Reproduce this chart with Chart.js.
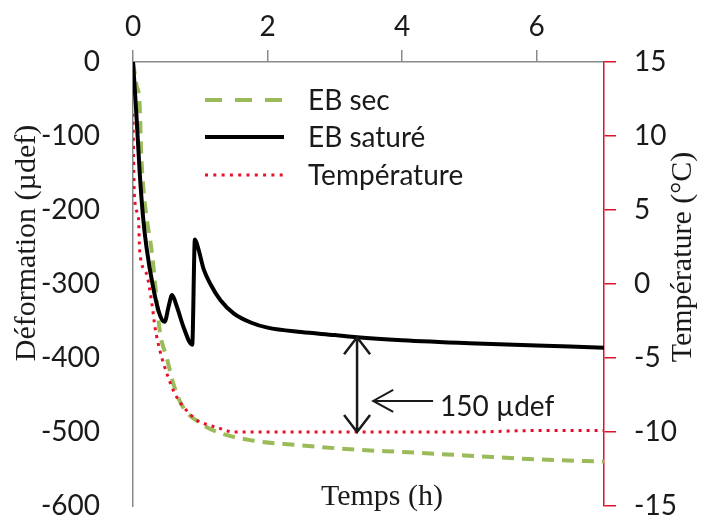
<!DOCTYPE html>
<html>
<head>
<meta charset="utf-8">
<script src="https://cdn.jsdelivr.net/npm/chart.js@4.4.1/dist/chart.umd.min.js"></script>
<style>
  html, body { margin: 0; padding: 0; background: #fff; }
</style>
</head>
<body>
<canvas id="chart" width="705" height="525"></canvas>
<script>
// EB sec (green dashed), left axis
const timeSec = [0, 0.05, 0.1, 0.12, 0.15, 0.2, 0.28, 0.35, 0.4, 0.5, 0.6, 0.74, 1.0, 1.25, 1.74, 2.5, 3.33, 4, 5, 6, 7];
const defSec  = [0, -30, -60, -120, -166, -209, -257, -320, -365, -399, -435, -466, -488, -500, -511, -518, -524, -527, -532, -537, -540];

// EB saturé (black), left axis
const timeSat = [0, 0.05, 0.1, 0.15, 0.2, 0.3, 0.4, 0.47, 0.53, 0.58, 0.65, 0.75, 0.88, 0.92, 0.97, 1.05, 1.15, 1.3, 1.5, 1.75, 2, 2.5, 3, 3.33, 4, 5, 6, 7];
const defSat  = [0, -70, -150, -210, -250, -305, -342, -351, -330, -315, -330, -358, -382, -240, -252, -280, -300, -322, -340, -352, -359, -365, -369, -372, -376, -380, -383, -386];

// Température (red dotted), right axis
const timeTemp = [0, 0.02, 0.08, 0.1, 0.2, 0.28, 0.33, 0.4, 0.5, 0.6, 0.7, 0.85, 0.95, 1.1, 1.25, 1.5, 2, 3, 4, 5, 6, 7];
const tempVals = [11.5, 6, 4.5, 2.2, 0.7, -1.3, -3, -4.5, -6, -7.2, -8, -8.8, -9.2, -9.5, -9.7, -10, -10, -10, -10, -10, -9.9, -9.9];

const seriesLabels = ["EB sec", "EB saturé", "Température"];

// annotation: gap between EB saturé and the temperature plateau
const arrowTime = 3.33;
const arrowTopDef = -372;
const arrowBottomTemp = -10;
const pointerTime = [3.57, 4.46];
const pointerDef = -458;
const pointerLabel = "150 µdef";

const toPoints = (xs, ys) => xs.map((t, i) => ({ x: t, y: ys[i] }));

Chart.defaults.font.family = "Lato";
Chart.defaults.color = "#1a1a1a";

const extras = {
    id: "extras",
    afterDatasetsDraw(chart) {
        const { ctx, scales } = chart;
        const x = scales.x, y = scales.y, y2 = scales.y2;
        ctx.save();

        // axis titles
        ctx.fillStyle = "#1a1a1a";
        ctx.font = '30px "Liberation Serif"';
        ctx.textAlign = "center";
        ctx.textBaseline = "middle";
        ctx.fillText("Temps (h)", 382, 497);

        ctx.save();
        ctx.translate(27, 243);
        ctx.rotate(-Math.PI / 2);
        ctx.fillText("Déformation (µdef)", 0, 0);
        ctx.restore();

        ctx.save();
        ctx.translate(683, 257);
        ctx.rotate(-Math.PI / 2);
        ctx.fillText("Température (°C)", 0, 0);
        ctx.restore();

        // legend
        const rows = [100, 137, 175];
        chart.data.datasets.forEach((ds, i) => {
            ctx.save();
            ctx.strokeStyle = ds.borderColor;
            ctx.lineWidth = ds.borderWidth;
            ctx.lineCap = ds.borderCapStyle || "butt";
            ctx.setLineDash(ds.legendDash || []);
            ctx.beginPath();
            ctx.moveTo(205, rows[i]);
            ctx.lineTo(284, rows[i]);
            ctx.stroke();
            ctx.restore();
            ctx.font = "28px Lato";
            ctx.textAlign = "left";
            ctx.fillStyle = "#1a1a1a";
            ctx.fillText(ds.label, 308, rows[i] + 1);
        });

        // double arrow
        const ax = x.getPixelForValue(arrowTime);
        const top = y.getPixelForValue(arrowTopDef);
        const bot = y2.getPixelForValue(arrowBottomTemp);
        ctx.strokeStyle = "#1a1a1a";
        ctx.lineWidth = 2.5;
        ctx.setLineDash([]);
        ctx.beginPath();
        ctx.moveTo(ax, top); ctx.lineTo(ax, bot);
        ctx.moveTo(ax - 13, top + 17); ctx.lineTo(ax, top); ctx.lineTo(ax + 13, top + 17);
        ctx.moveTo(ax - 13, bot - 17); ctx.lineTo(ax, bot); ctx.lineTo(ax + 13, bot - 17);
        ctx.stroke();

        // pointer arrow + label
        const px0 = x.getPixelForValue(pointerTime[0]);
        const px1 = x.getPixelForValue(pointerTime[1]);
        const py = y.getPixelForValue(pointerDef);
        ctx.lineWidth = 2;
        ctx.beginPath();
        ctx.moveTo(px0, py); ctx.lineTo(px1, py);
        ctx.moveTo(px0 + 20, py - 11); ctx.lineTo(px0, py); ctx.lineTo(px0 + 20, py + 11);
        ctx.stroke();
        ctx.font = "28px Lato";
        ctx.textAlign = "left";
        ctx.fillText(pointerLabel, px1 + 7, py + 6);

        ctx.restore();
    }
};

// fixed axis widths, and no extra label overflow padding
const fitY = (w) => (s) => { s.width = w; s.paddingTop = 0; s.paddingBottom = 0; };

new Chart(document.getElementById("chart"), {
    type: "line",
    data: {
        datasets: [
            {
                label: seriesLabels[0],
                data: toPoints(timeSec, defSec),
                yAxisID: "y",
                borderColor: "#9bbb59",
                borderWidth: 4,
                borderDash: [12, 8],
                legendDash: [17, 13],
                order: 2
            },
            {
                label: seriesLabels[1],
                data: toPoints(timeSat, defSat),
                yAxisID: "y",
                borderColor: "#000000",
                borderWidth: 4,
                order: 0
            },
            {
                label: seriesLabels[2],
                data: toPoints(timeTemp, tempVals),
                yAxisID: "y2",
                borderColor: "#e8102a",
                borderWidth: 3,
                borderDash: [3, 5],
                legendDash: [3, 5.3],
                order: 1
            }
        ]
    },
    options: {
        responsive: false,
        animation: false,
        layout: { padding: { top: 0, bottom: 19, left: 0, right: 0 } },
        elements: {
            point: { radius: 0 },
            line: { cubicInterpolationMode: "monotone", fill: false }
        },
        plugins: {
            legend: { display: false },
            tooltip: { enabled: false }
        },
        scales: {
            x: {
                type: "linear",
                position: "top",
                min: 0,
                max: 7,
                afterFit: (s) => { s.height = 62; s.paddingLeft = 0; s.paddingRight = 0; },
                ticks: { stepSize: 2, includeBounds: false, padding: 6, font: { size: 28 }, color: "#1a1a1a" },
                grid: { drawOnChartArea: false, tickLength: 12, color: "#8a8a8a", lineWidth: 1.5 },
                border: { color: "#8a8a8a", width: 1.5 }
            },
            y: {
                position: "left",
                min: -600,
                max: 0,
                afterFit: fitY(133),
                ticks: { stepSize: 100, padding: 33, font: { size: 28 }, color: "#1a1a1a" },
                grid: { drawOnChartArea: false, drawTicks: false },
                border: { color: "#8a8a8a", width: 1.5 }
            },
            y2: {
                position: "right",
                min: -15,
                max: 15,
                afterFit: fitY(101),
                ticks: { stepSize: 5, padding: 18, font: { size: 28 }, color: "#1a1a1a" },
                grid: { drawOnChartArea: false, tickLength: 12, color: "#e0102a", lineWidth: 1.5 },
                border: { color: "#e0102a", width: 1.5 }
            }
        }
    },
    plugins: [extras]
});
</script>
</body>
</html>
